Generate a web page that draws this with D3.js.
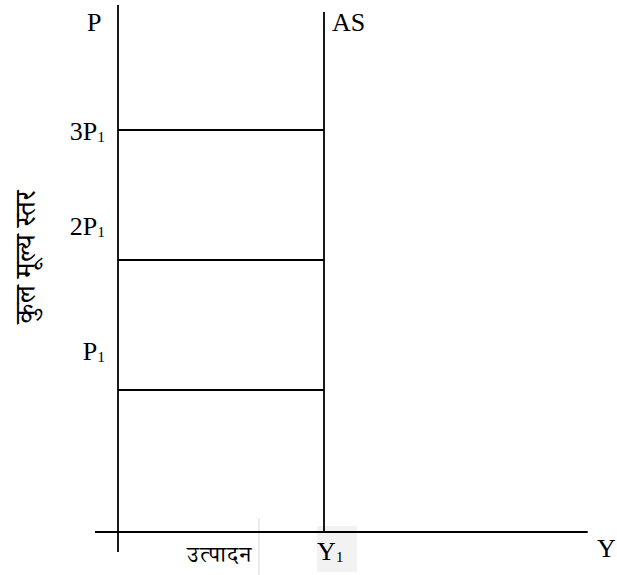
<!DOCTYPE html>
<html>
<head>
<meta charset="utf-8">
<script src="https://cdn.jsdelivr.net/npm/d3@7"></script>
<style>
  html, body { margin: 0; padding: 0; background: #fff; }
  svg { display: block; }
</style>
</head>
<body>
<svg id="chart" width="617" height="575"></svg>
<script>
// Price levels in multiples of P1, with their labels
const priceLevels = [1, 2, 3];
const priceLabels = [
  { main: "P", sub: "1" },
  { main: "2P", sub: "1" },
  { main: "3P", sub: "1" }
];
// Full-employment output (aggregate supply is vertical here)
const outputLevels = [1];
const outputLabels = [{ main: "Y", sub: "1" }];
const axisTitles = { y: "कुल मूल्य स्तर", x: "उत्पादन", yEnd: "P", xEnd: "Y", curve: "AS" };

// Vertical placement of each price label relative to its line
const priceLabelDy = [-30, -25, 10];

const serif = "'Liberation Serif', 'Times New Roman', serif";
const deva = "'Noto Serif Devanagari', 'Noto Sans Devanagari', 'Mangal', 'Lohit Devanagari', sans-serif";
const fs = 26;

const svg = d3.select("#chart");
const originX = 118, axisY = 532;

const x = d3.scaleLinear().domain([0, 2.28]).range([originX, originX + 2.28 * 206]);
const y = d3.scaleLinear().domain([0, 4]).range([520, 0]);

const ink = "#000";

// Light shading behind the Y1 label and a faint divider
svg.append("rect")
  .attr("x", x(outputLevels[0]) - 7).attr("y", axisY - 6)
  .attr("width", 40).attr("height", 46)
  .attr("fill", "#f2f2f2");
svg.append("line")
  .attr("x1", 259).attr("x2", 259).attr("y1", 518).attr("y2", 575)
  .attr("stroke", "#e4e4e4").attr("stroke-width", 1.5);

// Horizontal (output) axis
svg.append("line")
  .attr("x1", 95).attr("x2", x(2.28))
  .attr("y1", axisY).attr("y2", axisY)
  .attr("stroke", ink).attr("stroke-width", 1.8);

// Vertical (price) axis, extending a little below the output axis
svg.append("line")
  .attr("x1", originX).attr("x2", originX)
  .attr("y1", 5).attr("y2", 552)
  .attr("stroke", ink).attr("stroke-width", 1.8);

// Vertical AS line at Y1
svg.selectAll("line.as")
  .data(outputLevels)
  .join("line")
  .attr("class", "as")
  .attr("x1", d => x(d)).attr("x2", d => x(d))
  .attr("y1", 12).attr("y2", axisY)
  .attr("stroke", ink).attr("stroke-width", 1.8);

// Horizontal price lines from the axis to AS
svg.selectAll("line.price")
  .data(priceLevels)
  .join("line")
  .attr("class", "price")
  .attr("x1", x(0)).attr("x2", x(outputLevels[0]))
  .attr("y1", d => y(d)).attr("y2", d => y(d))
  .attr("stroke", ink).attr("stroke-width", 1.8);

function subLabel(sel, lab, size) {
  sel.append("tspan").text(lab.main);
  sel.append("tspan").text(lab.sub)
    .attr("font-size", size * 0.6).attr("dy", 2);
}

// Price labels on the left of the axis
priceLevels.forEach((v, i) => {
  const t = svg.append("text")
    .attr("x", 105).attr("y", y(v) + priceLabelDy[i])
    .attr("text-anchor", "end")
    .attr("font-family", serif).attr("font-size", fs).attr("fill", ink);
  subLabel(t, priceLabels[i], fs);
});

// Output label below the axis
outputLevels.forEach((v, i) => {
  const t = svg.append("text")
    .attr("x", x(v) - 7).attr("y", 560)
    .attr("font-family", serif).attr("font-size", fs).attr("fill", ink);
  subLabel(t, outputLabels[i], fs);
});

// Axis end labels
svg.append("text").attr("x", 87).attr("y", 31)
  .attr("font-family", serif).attr("font-size", fs).attr("fill", ink)
  .text(axisTitles.yEnd);
svg.append("text").attr("x", 332).attr("y", 31)
  .attr("font-family", serif).attr("font-size", fs).attr("fill", ink)
  .text(axisTitles.curve);
svg.append("text").attr("x", 597).attr("y", 557)
  .attr("font-family", serif).attr("font-size", fs).attr("fill", ink)
  .text(axisTitles.xEnd);

// Devanagari axis titles
svg.append("text")
  .attr("transform", "translate(35,257) rotate(-90)")
  .attr("text-anchor", "middle")
  .attr("font-family", deva).attr("font-size", 28).attr("fill", ink)
  .text(axisTitles.y);
svg.append("text")
  .attr("x", 220).attr("y", 562)
  .attr("text-anchor", "middle")
  .attr("font-family", deva).attr("font-size", 23)
  .attr("letter-spacing", 1.5).attr("fill", ink)
  .text(axisTitles.x);
</script>
</body>
</html>
